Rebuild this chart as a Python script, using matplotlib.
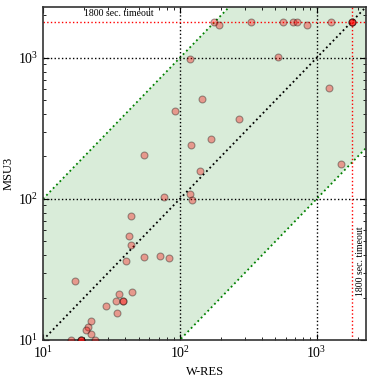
import numpy as np
import matplotlib
matplotlib.use('Agg')
import matplotlib.pyplot as plt

plt.rcParams['font.family'] = ['Liberation Serif', 'DejaVu Serif']
plt.rcParams['mathtext.fontset'] = 'stix'

# runtimes in seconds (W-RES on x, MSU3 on y)
wres = [54.6, 92, 118, 120, 177, 193, 330, 565, 668, 715, 845, 1265, 1800, 1800, 1800,
        519, 1225, 145, 270, 168, 140, 1496, 76, 118, 122,
        43.9, 42.5, 43.9, 40.4, 54.6, 71.4, 83.2,
        17.1, 35.9, 44.7, 34.1, 38.4, 38.4, 28.8, 34.7,
        22.4, 21.3, 20.6, 22.4, 16.0, 18.9, 18.9, 18.9, 24.0]
msu3 = [205, 421, 984, 241, 1800, 1720, 1800, 1800, 1800, 1800, 1720, 1800, 1800, 1800, 1800,
        1017, 612, 512, 369, 267, 158, 177, 103, 108, 98,
        75.7, 54.7, 47.2, 36.3, 38.8, 39.4, 38.2,
        26.2, 21.2, 21.9, 18.9, 18.9, 18.9, 17.4, 15.5,
        13.6, 12.4, 11.8, 11.0, 10, 10, 10, 10, 10]
timeout = 1800
lo, hi = 10, 2300

fig = plt.figure(figsize=(3.74, 3.79), dpi=100)
ax = fig.add_axes([0.115, 0.103, 0.864, 0.879])
ax.set_xscale('log')
ax.set_yscale('log')

xs = np.array([lo, hi])
ax.fill_between(xs, xs / 10, xs * 10, color='green', alpha=0.15, lw=0)
ax.plot(xs, xs * 10, ':', color='green', lw=1.3)
ax.plot(xs, xs / 10, ':', color='green', lw=1.3)
ax.plot(xs, xs, ':', color='black', lw=1.3)

for v in [100, 1000]:
    ax.axvline(v, color='black', ls=':', lw=1)
    ax.axhline(v, color='black', ls=':', lw=1)
ax.axvline(timeout, color='red', ls=':', lw=1)
ax.axhline(timeout, color='red', ls=':', lw=1)

ax.scatter(wres, msu3, s=25, c='red', alpha=0.35, edgecolors='black', linewidths=0.8, zorder=3)

ax.text(36, 1930, '1800 sec. timeout', fontsize=7, ha='center', va='bottom')
ax.text(1950, 36, '1800 sec. timeout', fontsize=7, ha='left', va='center', rotation=90)

ax.set_xlim(lo, hi)
ax.set_ylim(lo, hi)
ax.set_xlabel('W-RES', fontsize=9, labelpad=4)
ax.set_ylabel('MSU3', fontsize=9, labelpad=2)
ax.tick_params(which='both', direction='in', top=True, right=True, labelsize=10)
ax.tick_params(which='major', length=4)
ax.tick_params(which='minor', length=2)
for s in ax.spines.values():
    s.set_linewidth(1.2)
    s.set_color('#333333')

fig.savefig('out.png', dpi=100)
